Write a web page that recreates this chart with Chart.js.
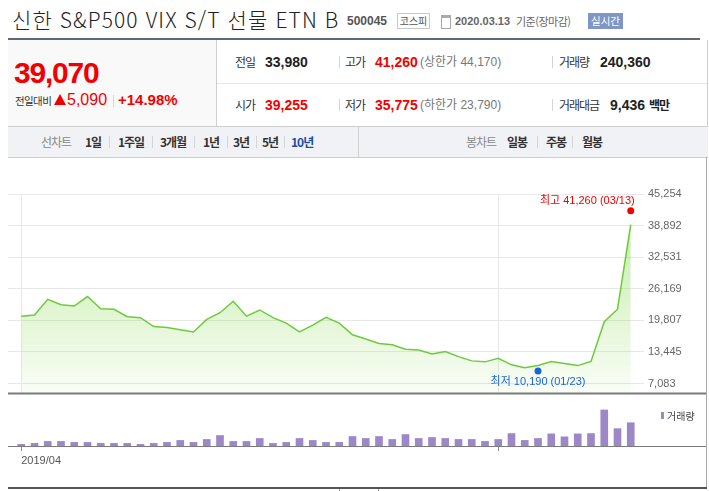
<!DOCTYPE html>
<html lang="ko">
<head>
<meta charset="utf-8">
<title>신한 S&amp;P500 VIX S/T 선물 ETN B</title>
<script src="https://cdn.jsdelivr.net/npm/chart.js@4.4.1/dist/chart.umd.min.js"></script>
<style>
  body{margin:0;background:#fff;width:709px;height:491px;overflow:hidden;position:relative;
       font-family:'Liberation Sans','Noto Sans CJK KR',sans-serif;color:#333}
  .t{position:absolute;white-space:nowrap;height:20px;line-height:20px}
  .k{font-family:'Noto Sans CJK KR',sans-serif;font-size:12px;letter-spacing:-1px;color:#333}
  .n{font-weight:bold;font-size:14px;color:#222}
  .r{color:#f20000}
  .g{color:#777;font-size:12px}
  .m{font-family:'Noto Sans CJK KR',sans-serif;font-size:12px;font-weight:bold;letter-spacing:-1px;color:#333}
  .sep{position:absolute;width:1px;height:12px;background:#d5d5d5}
  .box{position:absolute}
  canvas{position:absolute;left:0}
</style>
</head>
<body>
<!-- 상단 타이틀 -->
<div class="t" style="left:12px;top:6px;height:26px;line-height:26px;font-family:'Noto Sans CJK KR';font-size:21px;font-weight:300;letter-spacing:1.1px;color:#222">신한 S&amp;P500 VIX S/T 선물 ETN B</div>
<div class="t" style="left:347px;top:11px;font-size:12px;font-weight:bold;color:#555">500045</div>
<div class="box" style="left:397px;top:13px;width:31px;height:14px;border:1px solid #c9c9c9;font-family:'Noto Sans CJK KR';font-size:10px;line-height:14px;text-align:center;color:#555">코스피</div>
<div class="box" style="left:441px;top:15px;width:8px;height:10px;border:1px solid #aaa;border-top:3px solid #aaa"></div>
<div class="t" style="left:455px;top:11px;font-size:11px;font-weight:bold;color:#666">2020.03.13</div>
<div class="t" style="left:516px;top:11px;font-family:'Noto Sans CJK KR';font-size:11px;color:#666;letter-spacing:-0.5px">기준(장마감)</div>
<div class="box" style="left:588px;top:13px;width:35px;height:16px;background:#8196c8;color:#fff;font-family:'Noto Sans CJK KR';font-size:10.5px;line-height:16px;text-align:center">실시간</div>
<div class="box" style="left:8px;top:38px;width:692px;height:2px;background:#646874"></div>

<!-- 시세 정보 -->
<div class="box" style="left:8px;top:40px;width:208px;height:86px;background:#f9f9f9;border-right:1px solid #cfcfcf"></div>
<div class="box" style="left:217px;top:83px;width:491px;height:1px;background:#e6e6e6"></div>
<div class="box" style="left:707px;top:40px;width:1px;height:86px;background:#cfcfcf"></div>
<div class="t r" style="left:14px;top:55px;height:36px;line-height:36px;font-size:30px;font-weight:bold;letter-spacing:-1.2px">39,070</div>
<div class="t" style="left:15px;top:91px;font-family:'Noto Sans CJK KR';font-size:10.5px;letter-spacing:-0.6px;color:#333">전일대비</div>
<div class="box" style="left:54px;top:94px;width:0;height:0;border-left:6.5px solid transparent;border-right:6.5px solid transparent;border-bottom:11px solid #f20000"></div>
<div class="t r" style="left:67px;top:90px;font-size:16px">5,090</div>
<div class="sep" style="left:113px;top:95px"></div>
<div class="t r" style="left:118px;top:90px;font-size:15px;font-weight:bold">+14.98%</div>

<div class="t k" style="left:235px;top:52px">전일</div>
<div class="t n" style="left:265px;top:52px">33,980</div>
<div class="sep" style="left:339px;top:56px"></div>
<div class="t k" style="left:345px;top:52px">고가</div>
<div class="t n r" style="left:375px;top:52px">41,260</div>
<div class="t g" style="left:420px;top:52px">(상한가 44,170)</div>
<div class="sep" style="left:552px;top:56px"></div>
<div class="t k" style="left:559px;top:52px">거래량</div>
<div class="t n" style="left:600px;top:52px">240,360</div>

<div class="t k" style="left:235px;top:95px">시가</div>
<div class="t n r" style="left:265px;top:95px">39,255</div>
<div class="sep" style="left:339px;top:99px"></div>
<div class="t k" style="left:345px;top:95px">저가</div>
<div class="t n r" style="left:375px;top:95px">35,775</div>
<div class="t g" style="left:420px;top:95px">(하한가 23,790)</div>
<div class="sep" style="left:552px;top:99px"></div>
<div class="t k" style="left:559px;top:95px">거래대금</div>
<div class="t n" style="left:610px;top:95px">9,436 <span style="font-family:'Noto Sans CJK KR';font-size:12px;letter-spacing:-1px">백만</span></div>

<!-- 차트 메뉴 -->
<div class="box" style="left:8px;top:126px;width:700px;height:30px;background:#f1f2f6;border-top:1px solid #cfcfcf;border-bottom:1px solid #cfcfcf"></div>
<div class="box" style="left:358px;top:127px;width:1px;height:30px;background:#d0d0d0"></div>
<div class="t k" style="left:41px;top:132px;color:#888">선차트</div>
<div class="t m" style="left:85px;top:132px">1일</div>
<div class="sep" style="left:109px;top:136px"></div>
<div class="t m" style="left:118px;top:132px">1주일</div>
<div class="sep" style="left:152px;top:136px"></div>
<div class="t m" style="left:160px;top:132px">3개월</div>
<div class="sep" style="left:194px;top:136px"></div>
<div class="t m" style="left:203px;top:132px">1년</div>
<div class="sep" style="left:227px;top:136px"></div>
<div class="t m" style="left:233px;top:132px">3년</div>
<div class="sep" style="left:256px;top:136px"></div>
<div class="t m" style="left:262px;top:132px">5년</div>
<div class="sep" style="left:284px;top:136px"></div>
<div class="t m" style="left:291px;top:132px;color:#1c4ea8">10년</div>
<div class="t k" style="left:466px;top:132px;color:#888">봉차트</div>
<div class="t m" style="left:507px;top:132px">일봉</div>
<div class="sep" style="left:537px;top:136px"></div>
<div class="t m" style="left:546px;top:132px">주봉</div>
<div class="sep" style="left:572px;top:136px"></div>
<div class="t m" style="left:582px;top:132px">월봉</div>

<!-- 차트 -->
<div class="box" style="left:706px;top:157px;width:1px;height:332px;background:#aaa"></div>
<canvas id="priceChart" width="709" height="244" style="top:160px"></canvas>
<canvas id="volumeChart" width="709" height="84" style="top:404px"></canvas>
<div class="box" style="left:8px;top:487px;width:699px;height:2px;background:#555"></div>
<div class="box" style="left:339px;top:489px;width:38px;height:3px;border:1px solid #999;border-top:none"></div>

<script>
// 주간 종가 (2019/04 ~ 2020/03)
const closes = [
  20650, 20900, 24050, 22950, 22700, 24600, 22150, 22050, 20550, 20350,
  18550, 18350, 17900, 17450, 20000, 21350, 23650, 20650, 21900, 20350,
  19250, 17500, 18850, 20400, 19250, 16900, 16050, 15150, 14900, 14000,
  13850, 13050, 13550, 12500, 11650, 11450, 12150, 10850, 10250, 10700,
  11500, 11100, 10700, 11550, 19550, 22050, 39070
];
// 주간 거래량
const volumes = [
  50000, 80000, 140000, 140000, 110000, 110000, 80000, 80000, 80000, 50000,
  80000, 110000, 170000, 110000, 200000, 320000, 140000, 140000, 230000, 80000,
  110000, 230000, 170000, 110000, 110000, 290000, 230000, 290000, 200000, 350000,
  230000, 260000, 230000, 200000, 200000, 140000, 200000, 380000, 170000, 230000,
  370000, 280000, 370000, 380000, 1100000, 530000, 710000
];
const yTicks = [7083, 13445, 19807, 26169, 32531, 38892, 45254];
const xGridIdx = [0, 36];
const xTickLabels = ['2019/04', ''];

// 최고 / 최저
const markIdx = [46, 39];
const markValues = [41260, 10190];
const markLabels = ['최고 41,260 (03/13)', '최저 10,190 (01/23)'];
const markColors = ['#f20000', '#1a66d6'];

const marks = {
  id: 'marks',
  afterDatasetsDraw(chart) {
    const {ctx, chartArea, scales: {x, y}} = chart;
    ctx.save();
    ctx.strokeStyle = '#7b7b7b';
    ctx.lineWidth = 2;
    ctx.beginPath();
    ctx.moveTo(chartArea.left, chartArea.bottom);
    ctx.lineTo(chart.width - 3, chartArea.bottom);
    ctx.stroke();
    markIdx.forEach((idx, k) => {
      const up = k === 0;
      const px = x.getPixelForValue(idx);
      const py = y.getPixelForValue(markValues[k]) + (up ? -3 : 3);
      ctx.fillStyle = markColors[k];
      ctx.beginPath();
      ctx.arc(px, py, 3.5, 0, Math.PI * 2);
      ctx.fill();
      ctx.font = '11px "Liberation Sans", "Noto Sans CJK KR"';
      ctx.textBaseline = 'middle';
      if (up) {
        ctx.textAlign = 'right';
        ctx.fillText(markLabels[k], px + 4, py - 10);
      } else {
        ctx.textAlign = 'center';
        ctx.fillText(markLabels[k], px, py + 11);
      }
    });
    ctx.restore();
  }
};

const volumeExtras = {
  id: 'volumeExtras',
  afterDatasetsDraw(chart) {
    const {ctx, chartArea, scales: {y}} = chart;
    const base = Math.round(y.getPixelForValue(0)) + 0.5;
    ctx.save();
    ctx.strokeStyle = '#7b7b7b';
    ctx.lineWidth = 1;
    ctx.beginPath();
    ctx.moveTo(chartArea.left, base);
    ctx.lineTo(chart.width - 3, base);
    ctx.stroke();
    // 범례
    ctx.fillStyle = '#9c87c7';
    ctx.fillRect(chartArea.right + 17, chartArea.top + 8, 3, 7);
    ctx.fillStyle = '#444';
    ctx.font = '10px "Noto Sans CJK KR"';
    ctx.textBaseline = 'middle';
    ctx.textAlign = 'left';
    ctx.fillText('거래량', chartArea.right + 23, chartArea.top + 12);
    ctx.restore();
  }
};

const priceChart = new Chart(document.getElementById('priceChart').getContext('2d'), {
  type: 'line',
  data: {
    datasets: [{
      data: closes.map((v, i) => ({x: i, y: v})),
      borderColor: '#6ccb3a',
      borderWidth: 1.5,
      pointRadius: 0,
      tension: 0,
      fill: 'start',
      backgroundColor: function(c) {
        const area = c.chart.chartArea;
        if (!area) return 'rgba(125,215,60,0.2)';
        const g = c.chart.ctx.createLinearGradient(0, area.top, 0, area.bottom);
        g.addColorStop(0, 'rgba(125,215,60,0.5)');
        g.addColorStop(1, 'rgba(125,215,60,0.04)');
        return g;
      }
    }]
  },
  options: {
    responsive: false,
    animation: false,
    devicePixelRatio: 1,
    layout: {padding: {left: 8, top: 34, right: 0, bottom: 1}},
    plugins: {legend: {display: false}, tooltip: {enabled: false}},
    scales: {
      x: {
        type: 'linear', min: -1, max: 47,
        afterBuildTicks: s => { s.ticks = xGridIdx.map(v => ({value: v})); },
        afterFit: s => { s.height = 0; },
        ticks: {display: false},
        grid: {color: '#e8e8e8', drawTicks: false},
        border: {display: false}
      },
      y: {
        position: 'right', min: 5100, max: 45254,
        afterBuildTicks: s => { s.ticks = yTicks.map(v => ({value: v})); },
        afterFit: s => { s.width = 65; },
        ticks: {
          padding: 4, color: '#666',
          font: {family: 'Liberation Sans', size: 11},
          callback: v => v.toLocaleString('en-US')
        },
        grid: {color: '#e8e8e8', drawTicks: false},
        border: {display: false}
      }
    }
  },
  plugins: [marks]
});

const volumeChart = new Chart(document.getElementById('volumeChart').getContext('2d'), {
  type: 'bar',
  data: {
    datasets: [{
      data: volumes.map((v, i) => ({x: i, y: v})),
      backgroundColor: '#9c87c7',
      barThickness: 7
    }]
  },
  options: {
    responsive: false,
    animation: false,
    devicePixelRatio: 1,
    layout: {padding: {left: 8, top: 0, right: 0, bottom: 0}},
    plugins: {legend: {display: false}, tooltip: {enabled: false}},
    scales: {
      x: {
        type: 'linear', min: -1, max: 47, offset: false,
        afterBuildTicks: s => { s.ticks = xGridIdx.map(v => ({value: v})); },
        afterFit: s => { s.height = 42; },
        ticks: {
          align: 'start', maxRotation: 0, autoSkip: false, padding: 3,
          color: '#555', font: {family: 'Liberation Sans', size: 11},
          callback: (v, i) => xTickLabels[i]
        },
        grid: {offset: false, drawOnChartArea: false, drawTicks: true, tickLength: 5, color: '#888'},
        border: {display: false}
      },
      y: {
        position: 'right', min: 0, max: 1283000,
        afterFit: s => { s.width = 65; },
        ticks: {display: false},
        grid: {display: false},
        border: {display: false}
      }
    }
  },
  plugins: [volumeExtras]
});
</script>
</body>
</html>
